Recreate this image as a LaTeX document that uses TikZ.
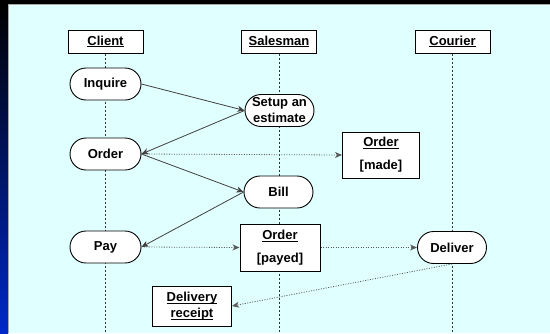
\documentclass[tikz,border=0pt]{standalone}
\usepackage{fontspec}
\setmainfont{Liberation Sans}
\usetikzlibrary{arrows.meta, shapes.misc}
\definecolor{paneCyan}{RGB}{224,255,255}
\definecolor{stripBlue}{RGB}{0,40,200}
\newcommand{\ulabel}[1]{\underline{\raisebox{0pt}[\height][0pt]{#1}}}

\begin{document}
\begin{tikzpicture}[x=1pt, y=-1pt,
	every node/.style={font=\fontsize{13}{16}\selectfont\bfseries},
	head/.style={draw, fill=white, line width=1pt, minimum width=75pt, minimum height=23pt, inner sep=0pt},
	act/.style={draw, fill=white, rounded rectangle, line width=0.9pt, minimum width=73pt, minimum height=32pt, inner sep=1pt, align=center},
	obj/.style={draw, fill=white, line width=1pt, minimum width=78pt, inner sep=2pt, align=center},
	lane/.style={black!80, line width=0.8pt, dash pattern=on 2pt off 2pt},
	call/.style={-{Stealth[length=7pt,width=6pt,inset=2pt]}, black!75, line width=0.8pt},
	flow/.style={-{Stealth[length=7pt,width=6pt,inset=2pt]}, black!65, line width=0.8pt, dash pattern=on 1pt off 1.5pt}]
	\useasboundingbox (0,0) rectangle (550,333);
	\fill[black] (0,0) rectangle (550,333);
	\shade[top color=black, bottom color=stripBlue] (0,4) rectangle (8,333);
	\fill[paneCyan] (8,4) rectangle (550,333);
	\draw[gray!70, line width=0.5pt] (8,333) -- (8,4) -- (550,4);
	% swimlane heads
	\node[head] (client) at (105.5,41.5) {\ulabel{Client}};
	\node[head] (salesman) at (279,41.5) {\ulabel{Salesman}};
	\node[head] (courier) at (452.5,41.5) {\ulabel{Courier}};
	\coordinate (clientEnd) at (105.5,333);
	\coordinate (salesmanEnd) at (279,333);
	\coordinate (courierEnd) at (452.5,333);
	\draw[lane] (client.south) -- (clientEnd);
	\draw[lane] (salesman.south) -- (salesmanEnd);
	\draw[lane] (courier.south) -- (courierEnd);
	% activities
	\node[act] (inquire) at (105.5,84) {Inquire};
	\node[act] (order) at (105.5,154) {Order};
	\node[act] (pay) at (105.5,247) {Pay};
	\node[act, minimum width=71pt] (estimate) at (279.5,110.5) {Setup an\\estimate};
	\node[act, minimum width=71pt] (bill) at (278.5,192) {Bill};
	\node[act, minimum width=71pt] (deliver) at (452,247.5) {Deliver};
	% objects
	\node[obj, minimum width=77pt, minimum height=46pt] (made) at (381,155) {\ulabel{Order}\\[7pt]{[made]}};
	\node[obj, minimum width=80pt, minimum height=47pt] (payed) at (280,247.5) {\ulabel{Order}\\[7pt]{[payed]}};
	\node[obj, minimum width=79pt, minimum height=40pt] (receipt) at (192,306) {\ulabel{Delivery}\\\ulabel{receipt}};
	% messages
	\draw[call] (inquire.east) -- (estimate.west);
	\draw[call] (estimate.west) -- (order.east);
	\draw[flow] (order.east) -- (made.west);
	\draw[call] (order.east) -- (bill.west);
	\draw[call] (bill.west) -- (pay.east);
	\draw[flow] (pay.east) -- (payed.west);
	\draw[flow] (payed.east) -- (deliver.west);
	\draw[flow] (deliver.south) -- (receipt.east);
\end{tikzpicture}
\end{document}
